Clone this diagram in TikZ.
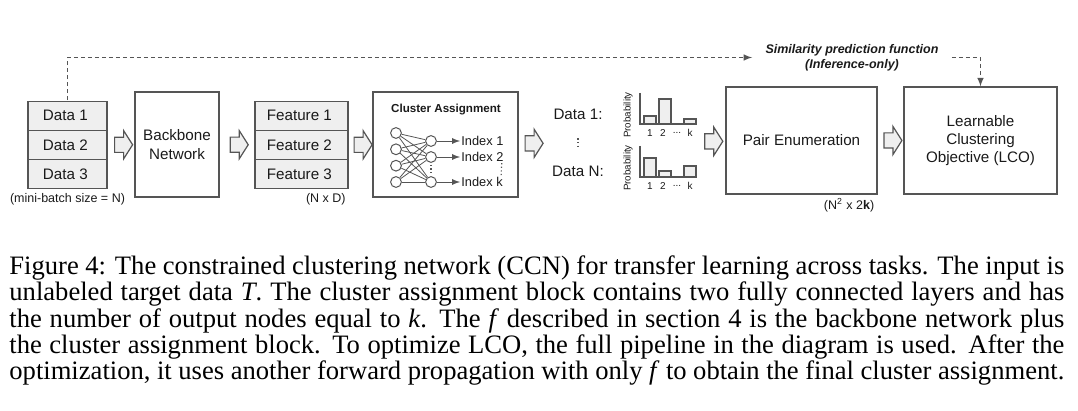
\documentclass[tikz,border=0pt]{standalone}
\usepackage{fontspec}
\setmainfont{Liberation Serif}
\newfontfamily\arial{Liberation Sans}
\usetikzlibrary{matrix,arrows,positioning,fit,shapes.arrows}
\definecolor{boxline}{HTML}{555555}
\definecolor{boxfill}{HTML}{EFEFEF}
\definecolor{ink}{HTML}{1A1A1A}
\tikzset{
	txt/.style={font=\arial\fontsize{7.6}{9.2}\selectfont, text=ink, align=center},
	note/.style={font=\arial\fontsize{6.25}{7.5}\selectfont, text=ink, inner sep=1.5pt},
	box/.style={txt, draw=boxline, line width=0.6pt, inner sep=0pt},
	cell/.style={box, fill=boxfill, minimum height=14.6pt},
	hollow/.style={single arrow, draw=boxline, fill=boxfill, line width=0.6pt, minimum height=9pt, single arrow head extend=3.25pt, single arrow tip angle=115, inner xsep=0pt, inner ysep=3.5pt},
	neuron/.style={circle, draw=boxline, fill=white, line width=0.5pt, minimum size=5.4pt, inner sep=0pt},
	wire/.style={draw=boxline, line width=0.4pt},
	idx/.style={font=\arial\fontsize{6.4}{7.5}\selectfont, text=ink, inner sep=0.5pt},
	bar/.style={draw=boxline, fill=boxfill, line width=0.6pt},
	tick/.style={font=\arial\fontsize{5}{6}\selectfont, text=ink, inner sep=0pt},
	vdots/.style={draw=boxline, line width=0.6pt, dash pattern=on 0.6pt off 1.2pt},
	feedback/.style={draw=boxline, line width=0.5pt, dash pattern=on 2pt off 1.5pt, -latex},
	caption/.style={font=\fontsize{13.3}{12}\selectfont, text width=527.5pt, align=justify, inner sep=0pt}
}

\begin{document}
\begin{tikzpicture}[x=0.5pt, y=-0.5pt]
\useasboundingbox (0,0) rectangle (1078,411);
\matrix (data) [matrix of nodes, row sep=-0.6pt, inner sep=0pt, nodes={cell, minimum width=39.5pt}] at (67.5,145)
{
	Data 1 \\
	Data 2 \\
	Data 3 \\
};
\node[box, minimum width=42pt, minimum height=52.5pt] (backbone) at (177,144.5) {Backbone\\Network};
\matrix (feat) [matrix of nodes, row sep=-0.6pt, inner sep=0pt, nodes={cell, minimum width=46.5pt}] at (301.5,145)
{
	Feature 1 \\
	Feature 2 \\
	Feature 3 \\
};
\node[box, minimum width=72.5pt, minimum height=52.5pt] (cluster) at (445.5,144.5) {};
\node[txt, font=\arial\bfseries\fontsize{5.8}{7}\selectfont] (catitle) at (446,110) {Cluster Assignment};
\node[box, minimum width=75.5pt, minimum height=53.5pt] (pair) at (801.5,140.5) {Pair Enumeration};
\node[box, minimum width=76.5pt, minimum height=53.5pt] (lco) at (980.5,140.5) {Learnable\\Clustering\\Objective (LCO)};
\node[note, anchor=north] (batch) at (data.south) {(mini-batch size = N)};
\node[note, anchor=north east] (nd) at (feat.south east) {(N x D)};
\node[note, anchor=north east] (nk) at (pair.south east) {(N\textsuperscript{2} x 2\textbf{k})};

\foreach \y [count=\i] in {133,149.3,165.7,182}
	\node[neuron] (n\i) at (396,\y) {};
\foreach \y/\j in {141/1,157/2,182/k}
	\node[neuron] (o\j) at (431,\y) {};
\foreach \i in {1,...,4}
	\foreach \j in {1,2,k}
		\draw[wire] (n\i) -- (o\j);
\foreach \y/\j in {141/1,157/2,182/k}
{
	\node[idx, anchor=west] (i\j) at (460,\y) {Index \j};
	\draw[wire, -latex] (o\j) -- (i\j);
}
\draw[vdots, shorten <=1pt, shorten >=1pt] (o2) -- (ok);
\draw[vdots] ([xshift=-1.5pt]i2.south east) -- ([xshift=-1.5pt]ik.north east);

\node[txt] (d1) at (578,114) {Data 1:};
\node[txt] (dn) at (578,171) {Data N:};
\draw[vdots, shorten <=6pt, shorten >=6pt] (d1) -- (dn);
\foreach \b/\p/\q/\r [count=\i] in {124/8/25/5,177/19/6/11}
{
	\coordinate (top\i) at (640,{\b-31});
	\coordinate (end\i) at (697,\b);
	\draw[bar] (644,\b) rectangle (656,{\b-\p});
	\draw[bar] (659,\b) rectangle (671,{\b-\q});
	\draw[bar] (684,\b) rectangle (696,{\b-\r});
	\draw[draw=boxline, line width=0.6pt] (top\i) |- (end\i);
	\node[tick] (one\i) at (650,{\b+9}) {1};
	\node[tick] (two\i) at (663,{\b+9}) {2};
	\node[tick] (dots\i) at (677,{\b+9}) {...};
	\node[tick] (kk\i) at (690,{\b+9}) {k};
	\node[tick, rotate=90, font=\arial\fontsize{4.9}{5}\selectfont] (pl\i) at (628,{\b-9}) {Probability};
}
\node[fit=(d1)(dn)(top1)(end2)(pl2), inner sep=0pt] (probs) {};

\path (data) -- node[hollow] (a1) {} (backbone);
\path (backbone) -- node[hollow] (a2) {} (feat);
\path (feat) -- node[hollow] (a3) {} (cluster);
\path (cluster) -- node[hollow] (a4) {} (probs);
\path (probs) -- node[hollow] (a5) {} (pair);
\path (pair) -- node[hollow] (a6) {} (lco);

\node[txt, font=\arial\bfseries\itshape\fontsize{6.25}{7.5}\selectfont, inner xsep=6.5pt, inner ysep=0pt] (sim) at (852,57.5) {Similarity prediction function\\(Inference-only)};
\draw[feedback] (data.north) |- (sim.west);
\draw[feedback] (sim.east) -| (lco.north);

\node[caption, anchor=north west] (cap) at (9,255) {Figure 4: The constrained clustering network (CCN) for transfer learning across tasks. The input is\linebreak unlabeled target data \textit{T}. The cluster assignment block contains two fully connected layers and has\linebreak the number of output nodes equal to \textit{k}. The \textit{f} described in section 4 is the backbone network plus\linebreak the cluster assignment block. To optimize LCO, the full pipeline in the diagram is used. After the\linebreak optimization, it uses another forward propagation with only \textit{f} to obtain the final cluster assignment.};
\end{tikzpicture}
\end{document}
